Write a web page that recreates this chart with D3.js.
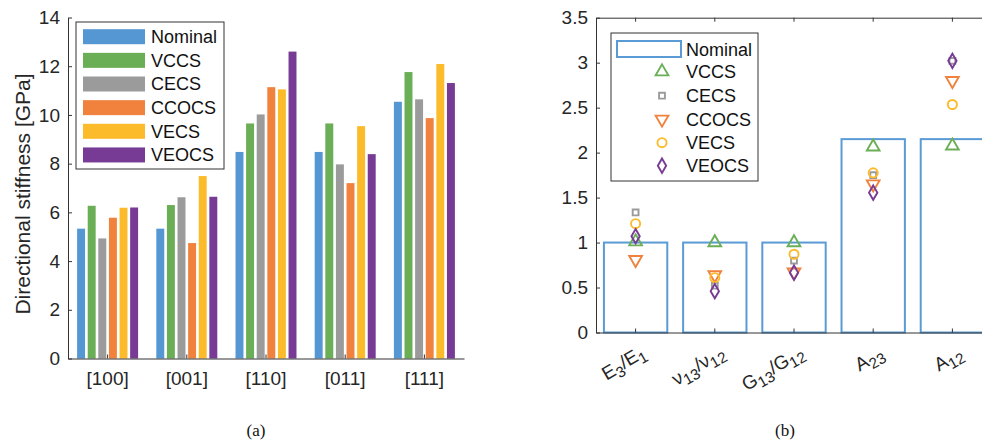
<!DOCTYPE html>
<html>
<head>
<meta charset="utf-8">
<script src="https://cdn.jsdelivr.net/npm/d3@7"></script>
<style>
  body { margin: 0; background: #fff; }
  svg { display: block; font-family: 'Liberation Sans', Arial, sans-serif; }
  .axis path, .axis line { stroke: #333; }
  .axis text { fill: #262626; font-size: 19px; }
</style>
</head>
<body>
<div id="chart"></div>
<script>
// Data (a): directional stiffness [GPa]
const directions = ['[100]', '[001]', '[110]', '[011]', '[111]'];
const seriesNames = ['Nominal', 'VCCS', 'CECS', 'CCOCS', 'VECS', 'VEOCS'];
const nominalA = [5.33, 5.33, 8.48, 8.48, 10.54];
const vccsA    = [6.27, 6.30, 9.65, 9.65, 11.76];
const cecsA    = [4.93, 6.62, 10.02, 7.97, 10.64];
const ccocsA   = [5.78, 4.74, 11.14, 7.20, 9.87];
const vecsA    = [6.19, 7.49, 11.05, 9.54, 12.09];
const veocsA   = [6.20, 6.64, 12.60, 8.39, 11.31];
const yTicksA  = [0, 2, 4, 6, 8, 10, 12, 14];

// Data (b): normalised properties
const props = ['E_3/E_1', 'ν_{13}/ν_{12}', 'G_{13}/G_{12}', 'A_{23}', 'A_{12}'];
const nominalB = [1, 1, 1, 2.15, 2.15];
const vccsB    = [1.01, 1.0, 1.0, 2.065, 2.075];
const cecsB    = [1.335, 0.52, 0.80, 1.75, 3.02];
const ccocsB   = [0.81, 0.64, 0.67, 1.65, 2.80];
const vecsB    = [1.21, 0.61, 0.87, 1.775, 2.535];
const veocsB   = [1.07, 0.46, 0.665, 1.555, 3.02];
const yTicksB  = [0, 0.5, 1, 1.5, 2, 2.5, 3, 3.5];

const colors = ['#5497d3', '#6aae55', '#9b9b9b', '#f0823d', '#fcbb2b', '#773b96'];
const seriesA = [nominalA, vccsA, cecsA, ccocsA, vecsA, veocsA];
const seriesB = [nominalB, vccsB, cecsB, ccocsB, vecsB, veocsB];

const W = 982, H = 441;
const svg = d3.select('#chart').append('svg').attr('width', W).attr('height', H);

// ---------- panel (a) ----------
const a = { left: 68, right: 464, top: 17.5, bottom: 358.5 };
const x0 = d3.scaleBand().domain(directions).range([a.left, a.right])
  .paddingInner(0.23).paddingOuter(0.115);
const x1 = d3.scaleBand().domain(seriesNames).range([0, x0.bandwidth()])
  .paddingInner(0.25).paddingOuter(0);
const yA = d3.scaleLinear().domain([0, 14]).range([a.bottom, a.top]);

const gA = svg.append('g');
seriesNames.forEach((name, si) => {
  gA.selectAll(null)
    .data(directions.map((d, i) => ({ dir: d, v: seriesA[si][i] })))
    .enter().append('rect')
    .attr('x', d => x0(d.dir) + x1(name))
    .attr('y', d => yA(d.v))
    .attr('width', x1.bandwidth())
    .attr('height', d => yA(0) - yA(d.v))
    .attr('fill', colors[si]);
});

gA.append('g').attr('class', 'axis')
  .attr('transform', `translate(${a.left},0)`)
  .call(d3.axisLeft(yA).tickValues(yTicksA).tickSize(-4).tickPadding(8).tickSizeOuter(0));
gA.append('g').attr('class', 'axis')
  .attr('transform', `translate(0,${a.bottom})`)
  .call(d3.axisBottom(x0).tickSize(-4).tickPadding(13).tickSizeOuter(0));

gA.append('text')
  .attr('transform', `translate(30,${(a.top + a.bottom) / 2 + 6}) rotate(-90)`)
  .attr('text-anchor', 'middle')
  .attr('font-size', 21).attr('fill', '#262626')
  .text('Directional stiffness [GPa]');

// legend (a)
const legA = gA.append('g');
legA.append('rect').attr('x', 76).attr('y', 22).attr('width', 148).attr('height', 147)
  .attr('fill', '#fff').attr('stroke', '#333').attr('stroke-width', 1);
seriesNames.forEach((name, i) => {
  const cy = 36.7 + i * 23.65;
  legA.append('rect').attr('x', 83).attr('y', cy - 7.5).attr('width', 62).attr('height', 15)
    .attr('fill', colors[i]);
  legA.append('text').attr('x', 151).attr('y', cy).attr('dy', '0.36em')
    .attr('font-size', 18).attr('fill', '#111').text(name);
});

// ---------- panel (b) ----------
const b = { left: 596, right: 992, top: 17.7, bottom: 332.5 };
const xB = d3.scaleBand().domain(props).range([b.left, b.right])
  .paddingInner(0.2).paddingOuter(0.1);
const yB = d3.scaleLinear().domain([0, 3.5]).range([b.bottom, b.top]);
const gB = svg.append('g');

// nominal boxes
gB.selectAll(null).data(props.map((p, i) => ({ p, v: nominalB[i] })))
  .enter().append('rect')
  .attr('x', d => xB(d.p))
  .attr('y', d => yB(d.v))
  .attr('width', xB.bandwidth())
  .attr('height', d => yB(0) - yB(d.v))
  .attr('fill', 'none').attr('stroke', '#5b9bd5').attr('stroke-width', 2);

gB.append('g').attr('class', 'axis')
  .attr('transform', `translate(${b.left},0)`)
  .call(d3.axisLeft(yB).tickValues(yTicksB).tickFormat(d => String(d))
    .tickSize(-4).tickPadding(8).tickSizeOuter(0));
gB.append('g').attr('class', 'axis')
  .attr('transform', `translate(0,${b.bottom})`)
  .call(d3.axisBottom(xB).tickSize(-4).tickSizeOuter(0).tickFormat(''));
gB.append('g').attr('class', 'axis')
  .attr('transform', `translate(0,${b.top})`)
  .call(d3.axisTop(xB).tickSize(-4).tickSizeOuter(0).tickFormat(''));

// rotated labels with subscripts
function richText(sel, s) {
  const re = /_\{([^}]*)\}|_(.)/g;
  let last = 0, m, sub = false;
  const parts = [];
  while ((m = re.exec(s)) !== null) {
    if (m.index > last) parts.push({ t: s.slice(last, m.index), sub: false });
    parts.push({ t: m[1] || m[2], sub: true });
    last = re.lastIndex;
  }
  if (last < s.length) parts.push({ t: s.slice(last), sub: false });
  parts.forEach(p => {
    const ts = sel.append('tspan').text(p.t);
    if (p.sub !== sub) ts.attr('dy', p.sub ? '0.3em' : '-0.3em');
    if (p.sub) ts.attr('font-size', '0.8em');
    sub = p.sub;
  });
}
props.forEach(p => {
  const cx = xB(p) + xB.bandwidth() / 2;
  const t = gB.append('text')
    .attr('transform', `translate(${cx + 12},357) rotate(-30)`)
    .attr('text-anchor', 'end')
    .attr('font-size', 19).attr('fill', '#262626');
  richText(t, p);
});

// markers
const markerDefs = [
  { type: d3.symbolTriangle, rot: 0, size: 70 },
  { type: d3.symbolSquare, rot: 0, size: 34 },
  { type: d3.symbolTriangle, rot: 180, size: 70 },
  { type: d3.symbolCircle, rot: 0, size: 65 },
  { type: d3.symbolDiamond, rot: 0, size: 60 }
];
[1, 2, 3, 4, 5].forEach((si, k) => {
  const md = markerDefs[k];
  const sym = d3.symbol().type(md.type).size(md.size);
  gB.selectAll(null).data(props.map((p, i) => ({ p, v: seriesB[si][i] })))
    .enter().append('path')
    .attr('d', sym)
    .attr('transform', d => `translate(${xB(d.p) + xB.bandwidth() / 2},${yB(d.v)}) rotate(${md.rot})`)
    .attr('fill', 'none').attr('stroke', colors[si]).attr('stroke-width', 1.9);
});

// legend (b)
const legB = gB.append('g');
legB.append('rect').attr('x', 611).attr('y', 33).attr('width', 147).attr('height', 148)
  .attr('fill', '#fff').attr('stroke', '#333').attr('stroke-width', 1);
const rowsB = [49.3, 71.7, 95.7, 119.3, 142.7, 165.7];
legB.append('rect').attr('x', 617).attr('y', 41).attr('width', 64).attr('height', 16)
  .attr('fill', 'none').attr('stroke', '#5b9bd5').attr('stroke-width', 2);
seriesNames.forEach((name, i) => {
  if (i > 0) {
    const md = markerDefs[i - 1];
    legB.append('path')
      .attr('d', d3.symbol().type(md.type).size(md.size))
      .attr('transform', `translate(662,${rowsB[i]}) rotate(${md.rot})`)
      .attr('fill', 'none').attr('stroke', colors[i]).attr('stroke-width', 1.9);
  }
  legB.append('text').attr('x', 686).attr('y', rowsB[i]).attr('dy', '0.36em')
    .attr('font-size', 18).attr('fill', '#111').text(name);
});

// captions
svg.append('text').attr('x', 256).attr('y', 436).attr('text-anchor', 'middle')
  .attr('font-family', 'Liberation Serif, Times New Roman, serif').attr('font-size', 17)
  .attr('fill', '#111').text('(a)');
svg.append('text').attr('x', 785).attr('y', 436).attr('text-anchor', 'middle')
  .attr('font-family', 'Liberation Serif, Times New Roman, serif').attr('font-size', 17)
  .attr('fill', '#111').text('(b)');
</script>
</body>
</html>
